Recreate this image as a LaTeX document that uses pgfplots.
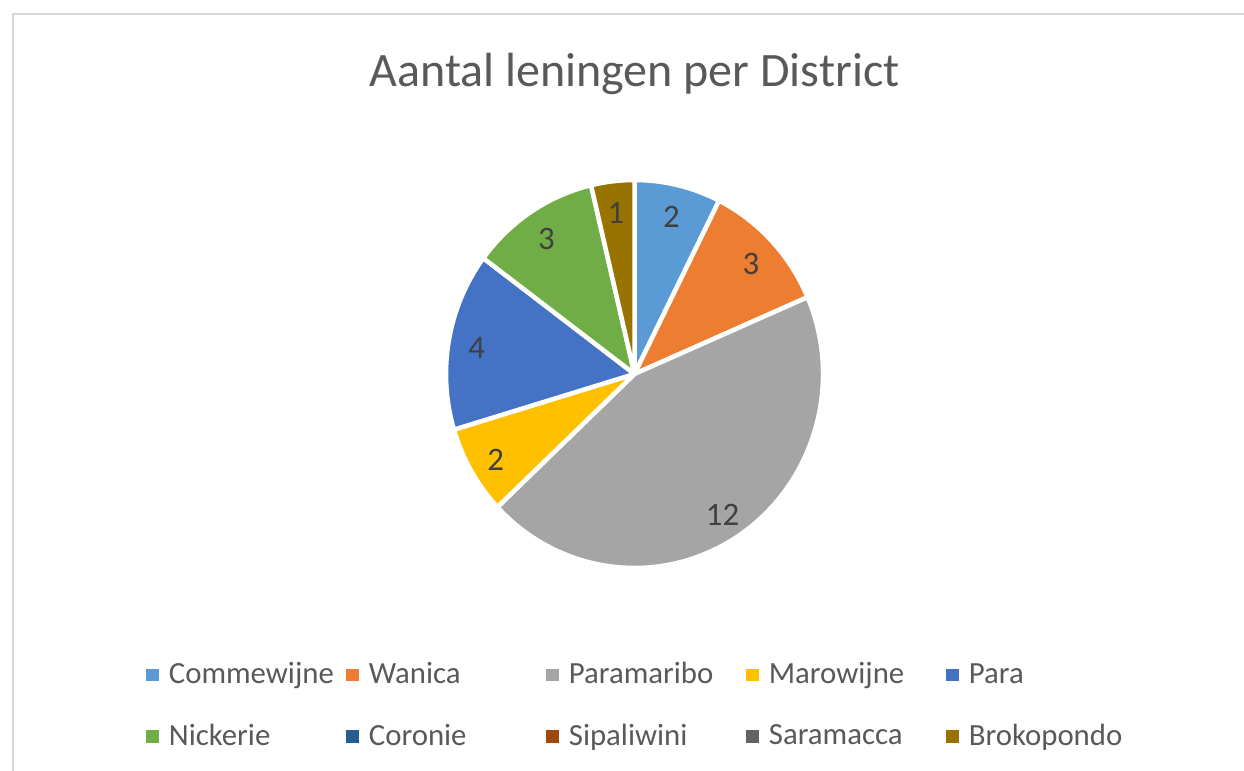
\documentclass[border=0pt]{standalone}
\usepackage{pgfplots}
\pgfplotsset{compat=1.18}
\usepackage{pgfplotstable}
\usepackage{fontspec}
\setmainfont{Carlito}

% slice colours, named after the districts
\definecolor{Commewijne}{HTML}{5B9BD5}
\definecolor{Wanica}{HTML}{ED7D31}
\definecolor{Paramaribo}{HTML}{A5A5A5}
\definecolor{Marowijne}{HTML}{FFC000}
\definecolor{Para}{HTML}{4472C4}
\definecolor{Nickerie}{HTML}{70AD47}
\definecolor{Coronie}{HTML}{255E91}
\definecolor{Sipaliwini}{HTML}{9E480E}
\definecolor{Saramacca}{HTML}{636363}
\definecolor{Brokopondo}{HTML}{997300}
\definecolor{txtgray}{HTML}{595959}
\definecolor{lblgray}{HTML}{404040}
\definecolor{framegray}{HTML}{D9D9D9}

\pgfplotstableread{
name value
Commewijne 2
Wanica 3
Paramaribo 12
Marowijne 2
Para 4
Nickerie 3
Coronie 0
Sipaliwini 0
Saramacca 0
Brokopondo 1
}\districts

\begin{document}
\begin{tikzpicture}
\path[use as bounding box] (0,0) rectangle (622pt,385.5pt);
\draw[framegray, line width=1.25pt] (6.5pt,0) -- (6.5pt,378.5pt) -- (622pt,378.5pt);

\pgfplotstablegetrowsof{\districts}
\pgfmathtruncatemacro\lastrow{\pgfplotsretval-1}
\def\total{0}
\pgfplotsforeachungrouped \i in {0,...,\lastrow}{%
  \pgfplotstablegetelem{\i}{value}\of\districts
  \pgfmathsetmacro\total{\total+\pgfplotsretval}%
}

\begin{axis}[
    at={(317.25pt,198.5pt)}, anchor=center,
    scale only axis,
    width=188.5pt, height=194pt,
    xmin=-1, xmax=1, ymin=-1, ymax=1,
    hide axis,
    clip=false,
    title={Aantal leningen per District},
    title style={at={(0.5,1.211)}, anchor=base, font=\fontsize{24}{28}\selectfont, text=txtgray},
    legend columns=5,
    legend cell align=left,
    legend image code/.code={\path[#1, draw=none] (0pt,-3.25pt) rectangle (6.3pt,3.05pt);},
    legend style={draw=none, fill=none,
        at={(-0.812,-0.222)}, anchor=north west,
        font=\fontsize{15.4}{18}\selectfont, text=txtgray,
        nodes={text width=88.7pt, inner xsep=0pt, align=left},
        /tikz/every odd column/.append style={column sep=5pt},
        /tikz/every even column/.append style={column sep=0pt},
        row sep=14.5pt},
]
\def\startang{90}
\pgfplotsforeachungrouped \i in {0,...,\lastrow}{%
  \pgfplotstablegetelem{\i}{value}\of\districts
  \let\val\pgfplotsretval
  \pgfplotstablegetelem{\i}{name}\of\districts
  \let\nm\pgfplotsretval
  \pgfmathsetmacro\sweep{360*\val/\total}%
  \pgfmathsetmacro\endang{\startang-\sweep}%
  \pgfmathsetmacro\midang{\startang-\sweep/2}%
  \ifdim\val pt>0pt
    \edef\temp{%
      \noexpand\fill[\nm, draw=white, line width=2.25pt, line join=round]
        (axis cs:0,0) -- (axis cs:{cos(\startang)},{sin(\startang)})
        arc[start angle=\startang, end angle=\endang, x radius=1, y radius=1] -- cycle;
      \noexpand\node[text=lblgray, yshift=-1.5pt, font=\noexpand\fontsize{16.4}{19}\noexpand\selectfont]
        at (axis cs:{0.85*cos(\midang)},{0.85*sin(\midang)}) {\val};
    }\temp
  \fi
  \edef\temp{\noexpand\addlegendimage{fill=\nm}\noexpand\addlegendentry{\nm}}\temp
  \let\startang\endang
}
\end{axis}
\end{tikzpicture}
\end{document}
